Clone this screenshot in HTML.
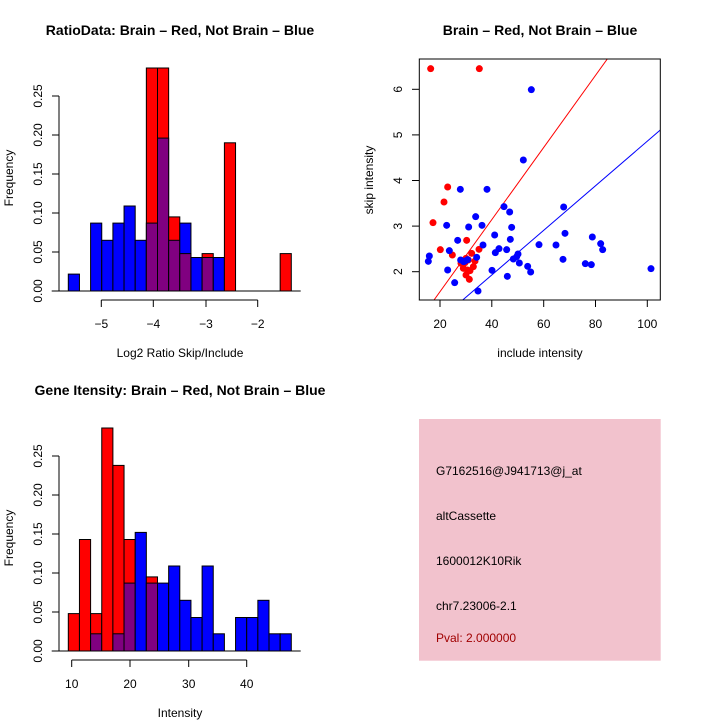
<!DOCTYPE html>
<html><head><style>body{margin:0;background:#fff}svg{display:block}text{font-family:"Liberation Sans",sans-serif;fill:#000}</style></head>
<body>
<svg width="720" height="720" viewBox="0 0 720 720" xmlns="http://www.w3.org/2000/svg">
<rect width="720" height="720" fill="#fff"/>
<text x="180" y="35" font-size="14" font-weight="bold" text-anchor="middle">RatioData: Brain – Red, Not Brain – Blue</text>
<g stroke="#000" stroke-width="1">
<rect x="68.3" y="274.1" width="11.15" height="16.9" fill="#00f"/>
<rect x="90.6" y="223.1" width="11.15" height="67.9" fill="#00f"/>
<rect x="101.75" y="240.3" width="11.15" height="50.7" fill="#00f"/>
<rect x="112.9" y="223.1" width="11.15" height="67.9" fill="#00f"/>
<rect x="124.05" y="206" width="11.15" height="85" fill="#00f"/>
<rect x="135.2" y="240.3" width="11.15" height="50.7" fill="#00f"/>
<rect x="146.35" y="68" width="11.15" height="223" fill="#f00"/>
<rect x="146.35" y="223.1" width="11.15" height="67.9" fill="#800080"/>
<rect x="157.5" y="68" width="11.15" height="223" fill="#f00"/>
<rect x="157.5" y="138.1" width="11.15" height="152.9" fill="#800080"/>
<rect x="168.65" y="216.9" width="11.15" height="74.1" fill="#f00"/>
<rect x="168.65" y="240.3" width="11.15" height="50.7" fill="#800080"/>
<rect x="179.8" y="223.1" width="11.15" height="67.9" fill="#00f"/>
<rect x="179.8" y="253.6" width="11.15" height="37.4" fill="#800080"/>
<rect x="190.95" y="257.5" width="11.15" height="33.5" fill="#00f"/>
<rect x="202.1" y="253.6" width="11.15" height="37.4" fill="#f00"/>
<rect x="202.1" y="257.5" width="11.15" height="33.5" fill="#800080"/>
<rect x="213.25" y="257.5" width="11.15" height="33.5" fill="#00f"/>
<rect x="224.4" y="142.8" width="11.15" height="148.2" fill="#f00"/>
<rect x="280.15" y="253.6" width="11.15" height="37.4" fill="#f00"/>
<line x1="51.7" y1="291" x2="300.7" y2="291"/>
<line x1="59" y1="96" x2="59" y2="291"/>
<line x1="52" y1="291" x2="59" y2="291"/><line x1="52" y1="252" x2="59" y2="252"/><line x1="52" y1="213" x2="59" y2="213"/><line x1="52" y1="174" x2="59" y2="174"/><line x1="52" y1="135" x2="59" y2="135"/><line x1="52" y1="96" x2="59" y2="96"/>
<line x1="101.3" y1="300" x2="257.7" y2="300"/>
<line x1="101.3" y1="300" x2="101.3" y2="307"/><line x1="153.3" y1="300" x2="153.3" y2="307"/><line x1="206" y1="300" x2="206" y2="307"/><line x1="257.7" y1="300" x2="257.7" y2="307"/>
</g>
<g font-size="12" text-anchor="middle">
<text transform="translate(42,291) rotate(-90)">0.00</text>
<text transform="translate(42,252) rotate(-90)">0.05</text>
<text transform="translate(42,213) rotate(-90)">0.10</text>
<text transform="translate(42,174) rotate(-90)">0.15</text>
<text transform="translate(42,135) rotate(-90)">0.20</text>
<text transform="translate(42,96) rotate(-90)">0.25</text>
<text x="101.3" y="328">−5</text><text x="153.3" y="328">−4</text><text x="206" y="328">−3</text><text x="257.7" y="328">−2</text>
<text x="180" y="357">Log2 Ratio Skip/Include</text>
<text transform="translate(13,178) rotate(-90)">Frequency</text>
</g>

<text x="180" y="395" font-size="14" font-weight="bold" text-anchor="middle">Gene Itensity: Brain – Red, Not Brain – Blue</text>
<g stroke="#000" stroke-width="1">
<rect x="68.3" y="613.6" width="11.15" height="37.4" fill="#f00"/>
<rect x="79.45" y="539.5" width="11.15" height="111.5" fill="#f00"/>
<rect x="90.6" y="613.6" width="11.15" height="37.4" fill="#f00"/>
<rect x="90.6" y="633.8" width="11.15" height="17.2" fill="#800080"/>
<rect x="101.75" y="428" width="11.15" height="223" fill="#f00"/>
<rect x="112.9" y="465.4" width="11.15" height="185.6" fill="#f00"/>
<rect x="112.9" y="633.8" width="11.15" height="17.2" fill="#800080"/>
<rect x="124.05" y="539.5" width="11.15" height="111.5" fill="#f00"/>
<rect x="124.05" y="583.1" width="11.15" height="67.9" fill="#800080"/>
<rect x="135.2" y="532.4" width="11.15" height="118.6" fill="#00f"/>
<rect x="146.35" y="576.9" width="11.15" height="74.1" fill="#f00"/>
<rect x="146.35" y="583.1" width="11.15" height="67.9" fill="#800080"/>
<rect x="157.5" y="583.1" width="11.15" height="67.9" fill="#00f"/>
<rect x="168.65" y="566" width="11.15" height="85" fill="#00f"/>
<rect x="179.8" y="600.3" width="11.15" height="50.7" fill="#00f"/>
<rect x="190.95" y="617.5" width="11.15" height="33.5" fill="#00f"/>
<rect x="202.1" y="566" width="11.15" height="85" fill="#00f"/>
<rect x="213.25" y="633.8" width="11.15" height="17.2" fill="#00f"/>
<rect x="235.55" y="617.5" width="11.15" height="33.5" fill="#00f"/>
<rect x="246.7" y="617.5" width="11.15" height="33.5" fill="#00f"/>
<rect x="257.85" y="600.3" width="11.15" height="50.7" fill="#00f"/>
<rect x="269" y="633.8" width="11.15" height="17.2" fill="#00f"/>
<rect x="280.15" y="633.8" width="11.15" height="17.2" fill="#00f"/>
<line x1="51.7" y1="651" x2="300.7" y2="651"/>
<line x1="59" y1="456" x2="59" y2="651"/>
<line x1="52" y1="651" x2="59" y2="651"/><line x1="52" y1="612" x2="59" y2="612"/><line x1="52" y1="573" x2="59" y2="573"/><line x1="52" y1="534" x2="59" y2="534"/><line x1="52" y1="495" x2="59" y2="495"/><line x1="52" y1="456" x2="59" y2="456"/>
<line x1="71.7" y1="660" x2="246.7" y2="660"/>
<line x1="71.7" y1="660" x2="71.7" y2="667"/><line x1="130" y1="660" x2="130" y2="667"/><line x1="188.7" y1="660" x2="188.7" y2="667"/><line x1="246.7" y1="660" x2="246.7" y2="667"/>
</g>
<g font-size="12" text-anchor="middle">
<text transform="translate(42,651) rotate(-90)">0.00</text>
<text transform="translate(42,612) rotate(-90)">0.05</text>
<text transform="translate(42,573) rotate(-90)">0.10</text>
<text transform="translate(42,534) rotate(-90)">0.15</text>
<text transform="translate(42,495) rotate(-90)">0.20</text>
<text transform="translate(42,456) rotate(-90)">0.25</text>
<text x="71.7" y="688">10</text><text x="130" y="688">20</text><text x="188.7" y="688">30</text><text x="246.7" y="688">40</text>
<text x="180" y="717">Intensity</text>
<text transform="translate(13,538) rotate(-90)">Frequency</text>
</g>

<text x="540" y="35" font-size="14" font-weight="bold" text-anchor="middle">Brain – Red, Not Brain – Blue</text>
<defs><clipPath id="c"><rect x="419.3" y="59" width="241" height="241"/></clipPath></defs>
<g clip-path="url(#c)" stroke-width="1">
<line x1="434" y1="300" x2="607.3" y2="59" stroke="#f00"/>
<line x1="462.7" y1="300" x2="660.3" y2="130" stroke="#00f"/>
</g>
<g transform="translate(360,40) scale(0.33333)">
<g fill="#f00">
<circle cx="212" cy="86" r="10.5"/><circle cx="358" cy="86" r="10.5"/><circle cx="263" cy="441" r="10.5"/><circle cx="252" cy="486" r="10.5"/><circle cx="219" cy="548" r="10.5"/><circle cx="241" cy="629" r="10.5"/><circle cx="277" cy="645" r="10.5"/><circle cx="320" cy="601" r="10.5"/><circle cx="357" cy="628" r="10.5"/><circle cx="303" cy="670" r="10.5"/><circle cx="318" cy="655" r="10.5"/><circle cx="335" cy="640" r="10.5"/><circle cx="345" cy="663" r="10.5"/><circle cx="340" cy="680" r="10.5"/><circle cx="330" cy="692" r="10.5"/><circle cx="318" cy="705" r="10.5"/><circle cx="328" cy="718" r="10.5"/><circle cx="322" cy="690" r="10.5"/><circle cx="310" cy="685" r="10.5"/><circle cx="315" cy="668" r="10.5"/><circle cx="325" cy="660" r="10.5"/>
</g>
<g fill="#00f">
<circle cx="514" cy="149" r="10.5"/><circle cx="490" cy="360" r="10.5"/><circle cx="301" cy="448" r="10.5"/><circle cx="381" cy="448" r="10.5"/><circle cx="432" cy="500" r="10.5"/><circle cx="449" cy="516" r="10.5"/><circle cx="347" cy="530" r="10.5"/><circle cx="260" cy="556" r="10.5"/><circle cx="326" cy="561" r="10.5"/><circle cx="366" cy="556" r="10.5"/><circle cx="455" cy="562" r="10.5"/><circle cx="611" cy="501" r="10.5"/><circle cx="404" cy="585" r="10.5"/><circle cx="615" cy="580" r="10.5"/><circle cx="697" cy="591" r="10.5"/><circle cx="369" cy="615" r="10.5"/><circle cx="293" cy="601" r="10.5"/><circle cx="268" cy="632" r="10.5"/><circle cx="451" cy="598" r="10.5"/><circle cx="537" cy="614" r="10.5"/><circle cx="588" cy="615" r="10.5"/><circle cx="722" cy="611" r="10.5"/><circle cx="728" cy="629" r="10.5"/><circle cx="208" cy="648" r="10.5"/><circle cx="205" cy="664" r="10.5"/><circle cx="315" cy="663" r="10.5"/><circle cx="350" cy="652" r="10.5"/><circle cx="323" cy="659" r="10.5"/><circle cx="311" cy="665" r="10.5"/><circle cx="406" cy="638" r="10.5"/><circle cx="417" cy="626" r="10.5"/><circle cx="440" cy="629" r="10.5"/><circle cx="474" cy="642" r="10.5"/><circle cx="460" cy="657" r="10.5"/><circle cx="478" cy="669" r="10.5"/><circle cx="503" cy="679" r="10.5"/><circle cx="609" cy="658" r="10.5"/><circle cx="676" cy="671" r="10.5"/><circle cx="694" cy="674" r="10.5"/><circle cx="873" cy="686" r="10.5"/><circle cx="263" cy="690" r="10.5"/><circle cx="396" cy="691" r="10.5"/><circle cx="512" cy="696" r="10.5"/><circle cx="284" cy="728" r="10.5"/><circle cx="442" cy="709" r="10.5"/><circle cx="354" cy="753" r="10.5"/><circle cx="302" cy="660" r="10.5"/><circle cx="470" cy="650" r="10.5"/>
</g>
</g>
<g stroke="#000" stroke-width="1" fill="none">
<rect x="419.3" y="59" width="241" height="241"/>
<line x1="440" y1="300" x2="440" y2="307"/><line x1="491.8" y1="300" x2="491.8" y2="307"/><line x1="543.7" y1="300" x2="543.7" y2="307"/><line x1="595.5" y1="300" x2="595.5" y2="307"/><line x1="647.3" y1="300" x2="647.3" y2="307"/>
<line x1="412" y1="271.7" x2="419.3" y2="271.7"/><line x1="412" y1="226.1" x2="419.3" y2="226.1"/><line x1="412" y1="180.5" x2="419.3" y2="180.5"/><line x1="412" y1="134.9" x2="419.3" y2="134.9"/><line x1="412" y1="89.3" x2="419.3" y2="89.3"/>
</g>
<g font-size="12" text-anchor="middle">
<text x="440" y="328">20</text><text x="491.8" y="328">40</text><text x="543.7" y="328">60</text><text x="595.5" y="328">80</text><text x="647.3" y="328">100</text>
<text transform="translate(402,271.7) rotate(-90)">2</text>
<text transform="translate(402,226.1) rotate(-90)">3</text>
<text transform="translate(402,180.5) rotate(-90)">4</text>
<text transform="translate(402,134.9) rotate(-90)">5</text>
<text transform="translate(402,89.3) rotate(-90)">6</text>
<text x="540" y="357">include intensity</text>
<text transform="translate(373,180) rotate(-90)">skip intensity</text>
</g>

<rect x="419" y="419" width="241.7" height="241.7" fill="#f2c2cd"/>
<g font-size="12">
<text x="436" y="475">G7162516@J941713@j_at</text>
<text x="436" y="520">altCassette</text>
<text x="436" y="565">1600012K10Rik</text>
<text x="436" y="610">chr7.23006-2.1</text>
<text x="436" y="642" style="fill:#a00000">Pval: 2.000000</text>
</g>
</svg>
</body></html>
